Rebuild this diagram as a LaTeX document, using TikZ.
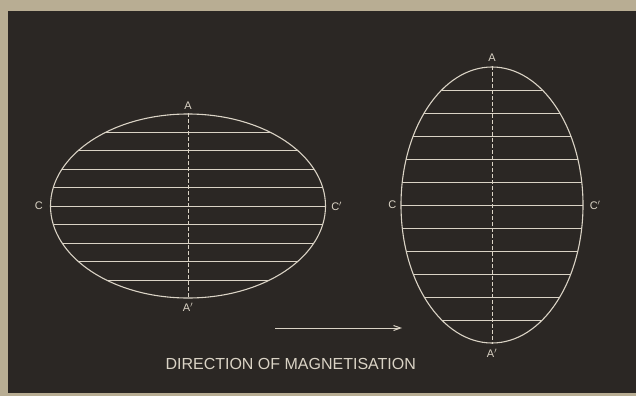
\documentclass[tikz,border=0pt]{standalone}
\usepackage{fontspec}
\setsansfont{Liberation Sans}
\usetikzlibrary{arrows.meta, shapes.geometric}
\definecolor{plate}{HTML}{2B2724}
\definecolor{paper}{HTML}{B8AD93}
\definecolor{chalk}{HTML}{DAD3C5}

\begin{document}
\begin{tikzpicture}[
	x=1pt, y=-1pt,
	>={Straight Barb[length=7pt, width=5pt]},
	oval/.style={
		ellipse, draw=chalk, line width=1.1pt, inner sep=0pt
	},
	chord/.style={draw=chalk, line width=1pt},
	axis/.style={draw=chalk, line width=1pt, dash pattern=on 3.5pt off 2.5pt},
	letter/.style={text=chalk, font=\sffamily\fontsize{11}{13}\selectfont, inner sep=1pt}
	]
	
	% ==========================================
	% PLATE: paper margin and dark ground
	% ==========================================
	\fill[paper] (0,0) rectangle (636,396);
	\fill[plate] (8,11) rectangle (636,393);
	
	% ==========================================
	% OVAL 1: long axis across the page
	% ==========================================
	
	\node[oval, minimum width=275pt, minimum height=184pt] (flat) at (188,206) {};
	
	% Parallel sections, cut off by the outline
	\begin{scope}
		\clip (188,206) ellipse [x radius=137.5, y radius=92];
		\foreach \k in {-4,...,4}
		\draw[chord] (40,206+18.5*\k) -- (340,206+18.5*\k);
	\end{scope}
	
	% Axis AA'
	\draw[axis] (flat.north) -- (flat.south);
	\node[letter, above=3pt] (A1) at (flat.north) {A};
	\node[letter, below=3pt] (A1p) at (flat.south) {A$'$};
	\node[letter, left=6pt] (C1) at (flat.west) {C};
	\node[letter, right=4pt] (C1p) at (flat.east) {C$'$};
	
	% ==========================================
	% OVAL 2: long axis up the page
	% ==========================================
	
	\node[oval, minimum width=182pt, minimum height=276pt] (tall) at (492,205) {};
	
	% Parallel sections, cut off by the outline
	\begin{scope}
		\clip (492,205) ellipse [x radius=91, y radius=138];
		\foreach \k in {-5,...,5}
		\draw[chord] (390,205+23*\k) -- (595,205+23*\k);
	\end{scope}
	
	% Axis AA'
	\draw[axis] (tall.north) -- (tall.south);
	\node[letter, above=4pt] (A2) at (tall.north) {A};
	\node[letter, below=4pt] (A2p) at (tall.south) {A$'$};
	\node[letter, left=3pt] (C2) at (tall.west) {C};
	\node[letter, right=5pt] (C2p) at (tall.east) {C$'$};
	
	% ==========================================
	% DIRECTION OF MAGNETISATION
	% ==========================================
	
	\coordinate (tail) at (275,328);
	\coordinate (head) at (402,328);
	\draw[->, chalk, line width=1pt] (tail) -- (head);
	
	\node[text=chalk, font=\sffamily\fontsize{16}{18}\selectfont, anchor=west] (caption) at (162,364)
	{DIRECTION OF MAGNETISATION};
\end{tikzpicture}
\end{document}
